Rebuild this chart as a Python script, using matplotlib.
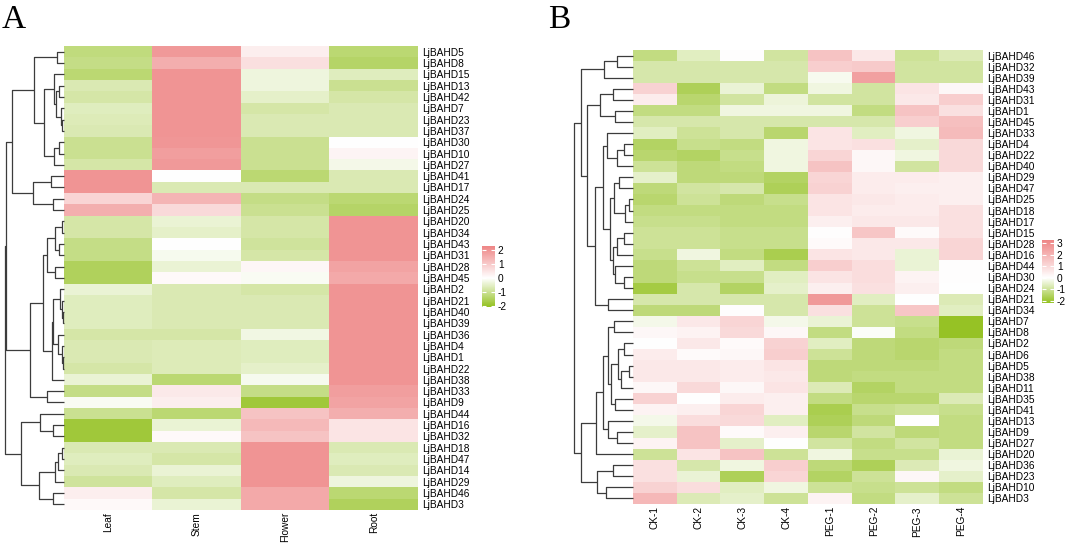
import matplotlib
matplotlib.use("Agg")
import matplotlib.pyplot as plt
from matplotlib.colors import LinearSegmentedColormap, Normalize
import numpy as np

plt.rcParams['font.family'] = ['Liberation Sans', 'DejaVu Sans']
plt.rcParams['axes.unicode_minus'] = False

# ---------------- panel A : tissues ----------------
tissues = ["Leaf", "Stem", "Flower", "Root"]
genes_a = ["LjBAHD5", "LjBAHD8", "LjBAHD15", "LjBAHD13", "LjBAHD42", "LjBAHD7", "LjBAHD23",
           "LjBAHD37", "LjBAHD30", "LjBAHD10", "LjBAHD27", "LjBAHD41", "LjBAHD17", "LjBAHD24",
           "LjBAHD25", "LjBAHD20", "LjBAHD34", "LjBAHD43", "LjBAHD31", "LjBAHD28", "LjBAHD45",
           "LjBAHD2", "LjBAHD21", "LjBAHD40", "LjBAHD39", "LjBAHD36", "LjBAHD4", "LjBAHD1",
           "LjBAHD22", "LjBAHD38", "LjBAHD33", "LjBAHD9", "LjBAHD44", "LjBAHD16", "LjBAHD32",
           "LjBAHD18", "LjBAHD47", "LjBAHD14", "LjBAHD29", "LjBAHD46", "LjBAHD3"]
leaf = [-1.2, -1.1, -1.3, -0.7, -0.8, -0.6, -0.65, -0.7, -1.0, -1.0, -0.8, 2.0, 2.0, 0.8,
        1.5, -0.8, -0.8, -1.1, -1.1, -1.5, -1.5, -0.4, -0.6, -0.6, -0.6, -0.8, -0.7, -0.7,
        -0.8, -0.4, -1.1, -0.1, -1.0, -1.8, -1.8, -0.7, -0.6, -0.7, -0.9, 0.3, 0.1]
stem = [1.9, 1.5, 2.0, 2.0, 2.0, 2.0, 2.0, 2.0, 1.95, 1.8, 1.9, 0.0, -0.7, 1.4,
        0.7, -0.4, -0.5, 0.0, -0.15, -0.4, 0.1, -0.7, -0.7, -0.7, -0.7, -0.8, -0.65, -0.65,
        -0.65, -1.3, 0.4, 0.3, -1.3, -0.4, 0.1, -0.7, -0.8, -0.4, -0.6, -0.8, -0.4]
flower = [0.3, 0.6, -0.3, -0.3, -0.5, -0.8, -0.7, -0.7, -1.0, -1.0, -1.0, -1.3, -0.7, -1.1,
          -1.0, -0.8, -0.8, -0.9, -0.8, 0.15, -0.1, -0.8, -0.7, -0.7, -0.7, -0.25, -0.6, -0.6,
          -0.5, -0.15, -1.1, -1.8, 1.1, 1.3, 1.1, 2.0, 2.0, 2.0, 2.0, 1.6, 1.6]
root = [-1.3, -1.4, -0.6, -1.0, -0.8, -0.7, -0.7, -0.7, 0.0, 0.2, -0.2, -0.7, -0.7, -1.3,
        -1.4, 2.0, 2.0, 2.0, 2.0, 1.7, 1.6, 2.0, 2.0, 2.0, 2.0, 2.0, 2.0, 2.0,
        2.0, 2.0, 1.8, 1.7, 1.5, 0.5, 0.5, -0.7, -0.6, -0.7, -0.3, -1.3, -1.5]

# row tree for A: (left, right, merge height), leaves are row indices
a0_10 = ((0, 1, 20),
         ((2, ((3, 4, 14), (5, (6, 7, 5), 9), 24), 30), ((8, 9, 14), 10, 30), 61), 89)
a0_14 = (a0_10, ((11, 12, 39), (13, 14, 32), 92), 155)
a15_20 = (((15, 16, 5), (17, 18, 14), 27), (19, 20, 27), 52)
a21_29 = (((21, (22, (23, 24, 3), 6), 12), (25, (26, (27, 28, 3), 7), 17), 32), 29, 35)
a15_31 = ((a15_20, a21_29, 64), (30, 31, 52), 102)
a32_40 = ((32, (33, 34, 32), 72), ((((35, 36, 7), 37, 17), 38, 27), (39, 40, 34), 75), 129)
tree_a = ((a0_14, a15_31, 174), a32_40, 177)

# ---------------- panel B : drought ----------------
samples = ["CK-1", "CK-2", "CK-3", "CK-4", "PEG-1", "PEG-2", "PEG-3", "PEG-4"]
genes_b = ["LjBAHD46", "LjBAHD32", "LjBAHD39", "LjBAHD43", "LjBAHD31", "LjBAHD1", "LjBAHD45",
           "LjBAHD33", "LjBAHD4", "LjBAHD22", "LjBAHD40", "LjBAHD29", "LjBAHD47", "LjBAHD25",
           "LjBAHD18", "LjBAHD17", "LjBAHD15", "LjBAHD28", "LjBAHD16", "LjBAHD44", "LjBAHD30",
           "LjBAHD24", "LjBAHD21", "LjBAHD34", "LjBAHD7", "LjBAHD8", "LjBAHD2", "LjBAHD6",
           "LjBAHD5", "LjBAHD38", "LjBAHD11", "LjBAHD35", "LjBAHD41", "LjBAHD13", "LjBAHD9",
           "LjBAHD27", "LjBAHD20", "LjBAHD36", "LjBAHD23", "LjBAHD10", "LjBAHD3"]
ck1 = [-1.2, -0.8, -0.8, 1.2, 0.5, -1.2, -0.8, -0.6, -1.5, -1.4, -1.0, -0.5, -1.3, -1.4,
       -1.2, -1.1, -1.0, -1.0, -1.1, -1.3, -1.3, -1.8, -0.8, -1.3, -0.2, 0.2, 0.0, 0.5,
       0.6, 0.6, 0.2, 1.2, 0.3, -0.2, -0.5, 0.3, -1.0, 0.8, 0.8, 1.2, 1.9]
ck2 = [-0.6, -0.8, -0.8, -1.6, -1.4, -1.2, -0.8, -1.0, -1.1, -1.5, -1.3, -1.3, -0.9, -1.0,
       -1.2, -1.1, -1.0, -1.0, -0.3, -1.0, -1.1, -0.8, -0.8, -1.3, 0.6, 0.3, 0.6, 0.1,
       0.6, 0.6, 1.0, 0.0, 0.4, 0.9, 1.6, 1.6, 0.7, -0.8, -0.4, 0.9, -0.7]
ck3 = [0.05, -0.8, -0.8, -0.4, -0.9, -0.3, -0.8, -0.8, -1.2, -1.1, -1.2, -1.3, -0.8, -1.3,
       -1.2, -1.2, -1.1, -1.1, -1.2, -0.6, -1.1, -1.5, -0.8, 0.05, 1.1, 1.0, 0.1, 0.2,
       0.5, 0.5, 0.2, 0.5, 1.1, 1.0, 0.1, -0.5, 1.6, -0.3, -1.6, -0.6, -0.5]
ck4 = [-0.9, -0.8, -0.8, -1.2, -0.35, -0.3, -0.8, -1.4, -0.3, -0.3, -0.3, -1.5, -1.6, -1.1,
       -1.2, -1.2, -1.1, -1.1, -1.7, -1.2, -0.6, -0.5, -0.8, -0.8, -0.2, 0.2, 1.2, 1.3,
       0.7, 0.6, 0.7, 0.4, 0.4, -0.6, 0.4, 0.0, -1.0, 1.3, 1.1, -0.3, -1.0]
peg1 = [1.6, 1.3, -0.15, -0.3, -0.9, -0.3, -0.8, 0.7, 0.7, 1.1, 1.6, 1.1, 1.2, 0.7,
        0.7, 0.4, 0.05, 0.1, 0.7, 1.3, 0.7, 0.4, 2.7, 0.8, -0.4, -1.2, -0.6, -1.0,
        -1.3, -1.3, -0.7, -1.2, -1.7, -1.6, -1.4, -0.9, -0.3, -1.3, -1.5, -1.0, 0.3]
peg2 = [0.6, 1.4, 2.5, -0.9, -0.9, -1.2, -0.8, -0.6, 0.8, 0.2, 0.2, 0.5, 0.5, 0.6,
        0.5, 0.6, 1.5, 0.6, 0.6, 0.9, 0.9, 0.8, -0.6, -1.0, -1.0, -0.05, -1.3, -1.3,
        -1.3, -1.2, -1.5, -1.4, -1.1, -1.3, -0.9, -1.2, -1.1, -1.6, -1.0, -1.1, -1.2]
peg3 = [-1.0, -0.9, -0.9, 0.7, 0.6, 1.6, 1.3, -0.3, -0.5, -0.3, -0.9, 0.5, 0.4, 0.5,
        0.5, 0.6, 0.1, 0.6, -0.4, -0.4, 0.3, 0.4, 0.0, 1.5, -1.1, -1.2, -1.4, -1.4,
        -1.3, -1.2, -1.2, -1.4, -1.0, 0.0, -1.3, -0.9, -1.1, -0.7, 0.2, -1.0, -0.5]
peg4 = [-0.7, -0.9, -0.9, 0.2, 1.3, 0.8, 1.7, 1.8, 1.0, 1.0, 1.0, 0.4, 0.4, 0.4,
        0.8, 0.8, 0.8, 1.1, 1.1, 0.05, 0.05, 0.0, -0.7, -0.6, -2.1, -2.1, -1.3, -1.2,
        -1.2, -1.2, -1.2, -0.7, -1.1, -1.2, -1.2, -1.2, -0.4, -0.3, -0.5, -1.2, -1.0]

# row tree for B
b0_2 = ((0, 1, 48), 2, 85)
b3_6 = ((3, 4, 60), (5, 6, 53), 98)
b7_10 = (7, ((8, 9, 28), 10, 48), 78)
b11_21 = (((11, 12, 43), ((13, 14, 13), 15, 23), 55),
          (((16, 17, 28), 18, 48), (19, (20, 21, 28), 53), 60), 68)
b7_23 = ((b7_10, b11_21, 90), (22, 23, 73), 113)
b0_23 = (b0_2, (b3_6, b7_23, 135), 155)
b26_32 = (((26, 27, 28), ((28, 29, 13), 30, 35), 45), (31, 32, 53), 66)
b24_36 = ((((24, 25, 55), b26_32, 73), (33, (34, 35, 48), 73), 90), 36, 111)
b37_40 = ((37, 38, 58), (39, 40, 81), 108)
tree_b = (b0_23, (b24_36, b37_40, 155), 175)

green, pink = "#93C11F", "#EE8585"
W, H = 1065, 543


def box(x0, y0, x1, y1):
    return [x0 / W, 1 - y1 / H, (x1 - x0) / W, (y1 - y0) / H]


def make_cmap(vmin, vmax):
    mid = (0 - vmin) / (vmax - vmin)
    return LinearSegmentedColormap.from_list("gwp", [(0, green), (mid, "white"), (1, pink)])


def draw_tree(ax, node):
    if isinstance(node, int):
        return node, 0.0
    l, r, h = node
    yl, hl = draw_tree(ax, l)
    yr, hr = draw_tree(ax, r)
    ax.plot([hl, h, h, hr], [yl, yl, yr, yr], color="#3c3c3c", lw=0.9,
            solid_capstyle="butt", clip_on=False)
    return (yl + yr) / 2, h


def panel(fig, data, rows, cols, tree, hm, dd, cb, vmin, vmax, ticks, letter, lx):
    n = len(rows)
    cmap = make_cmap(vmin, vmax)
    ax = fig.add_axes(box(*hm))
    im = ax.imshow(data, cmap=cmap, norm=Normalize(vmin, vmax), aspect="auto",
                   interpolation="nearest")
    ax.yaxis.tick_right()
    ax.set_yticks(range(n))
    ax.set_yticklabels(rows, fontsize=7.3)
    ax.set_xticks(range(len(cols)))
    ax.set_xticklabels(cols, rotation=90, fontsize=7.3)
    ax.tick_params(axis="y", length=0, pad=3)
    ax.tick_params(axis="x", length=0, pad=1.5)
    for s in ax.spines.values():
        s.set_visible(False)

    axd = fig.add_axes(box(*dd))
    draw_tree(axd, tree)
    axd.set_ylim(n - 0.5, -0.5)
    axd.set_xlim(tree[2], 0)
    axd.axis("off")

    cax = fig.add_axes(box(*cb))
    c = fig.colorbar(im, cax=cax, ticks=ticks)
    c.outline.set_visible(False)
    cax.tick_params(direction="in", color="white", length=3, width=0.8,
                    labelsize=7.3, pad=2, left=True)
    fig.text(lx / W, 1 - 5 / H, letter, fontsize=24, va="top", ha="left",
             family=["Liberation Serif", "DejaVu Serif"])


fig = plt.figure(figsize=(10.65, 5.43), dpi=100)

data_a = np.column_stack([leaf, stem, flower, root])
panel(fig, data_a, genes_a, tissues, tree_a,
      (64, 46, 418, 510), (5, 46, 64, 510), (482, 246, 495, 307),
      -2.07, 2.29, [-2, -1, 0, 1, 2], "A", 2)

data_b = np.column_stack([ck1, ck2, ck3, ck4, peg1, peg2, peg3, peg4])
panel(fig, data_b, genes_b, samples, tree_b,
      (633, 50, 983, 504), (574, 50, 633, 504), (1042, 240, 1054, 303),
      -2.17, 3.26, [-2, -1, 0, 1, 2, 3], "B", 548)

fig.savefig("out.png", dpi=100)
